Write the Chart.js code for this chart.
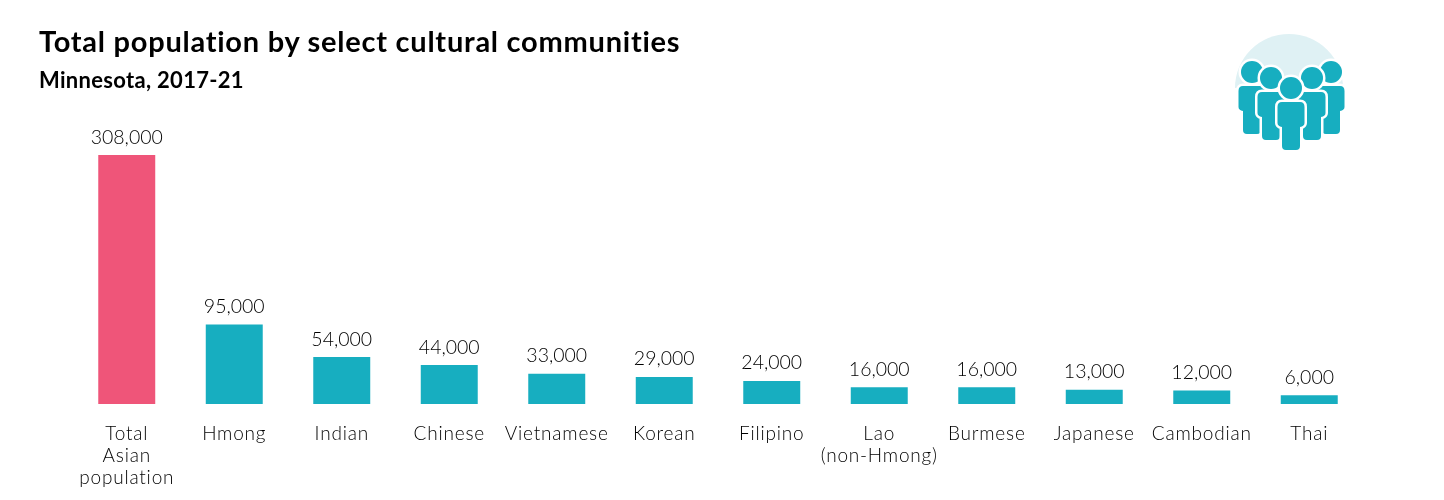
<!DOCTYPE html>
<html>
<head>
<meta charset="utf-8">
<title>Total population by select cultural communities</title>
<script src="https://cdn.jsdelivr.net/npm/chart.js@4"></script>
<style>
  html, body { margin: 0; padding: 0; background: #fff; }
  #wrap { position: relative; width: 1444px; height: 500px; overflow: hidden; font-family: Lato, sans-serif; color: #000; }
  #chart { position: absolute; left: 0; top: 0; }
  h1, h2 { position: absolute; left: 39px; margin: 0; font-weight: 700; white-space: nowrap; }
  h1 { top: 23px; font-size: 29px; line-height: 36px; letter-spacing: 0.75px; }
  h2 { top: 67px; font-size: 22px; line-height: 26px; letter-spacing: 0.3px; }
  #icon { position: absolute; left: 1220px; top: 25px; }
</style>
</head>
<body>
<div id="wrap">
  <canvas id="chart" width="1444" height="500"></canvas>
  <h1>Total population by select cultural communities</h1>
  <h2>Minnesota, 2017-21</h2>
  <svg id="icon" width="140" height="130" viewBox="1220 25 140 130">
    <defs>
      <g id="person">
        <circle cx="0" cy="0" r="11"/>
        <path d="M-9,14 H9 Q13.5,14 13.5,19 V35 Q13.5,38 9,39 V58 Q9,62 5,62 H-5 Q-9,62 -9,58 V39 Q-13.5,38 -13.5,35 V19 Q-13.5,14 -9,14 Z"/>
      </g>
    </defs>
    <path d="M1235,88 A54,54 0 0 1 1343,88 Z" fill="#dff1f4"/>
    <g fill="#17aec0" stroke="#fff" stroke-width="5" paint-order="stroke">
      <use href="#person" x="1252" y="72"/>
      <use href="#person" x="1331" y="72"/>
      <use href="#person" x="1271" y="78"/>
      <use href="#person" x="1312" y="78"/>
      <use href="#person" x="1291" y="88"/>
    </g>
  </svg>
</div>
<script>
// DATA
const categories = [['Total', 'Asian', 'population'], 'Hmong', 'Indian', 'Chinese', 'Vietnamese', 'Korean', 'Filipino', ['Lao', '(non-Hmong)'], 'Burmese', 'Japanese', 'Cambodian', 'Thai'];
const population = [308000, 95000, 54000, 44000, 33000, 29000, 24000, 16000, 16000, 13000, 12000, 6000];
const barColors = ['#ef5579', '#17aec0', '#17aec0', '#17aec0', '#17aec0', '#17aec0', '#17aec0', '#17aec0', '#17aec0', '#17aec0', '#17aec0', '#17aec0'];
// the reference axis starts a little below zero
const axisMin = -5000;
const axisMax = 308000;

// VALUE LABELS above the bars
const valueLabels = {
  id: 'valueLabels',
  afterDatasetsDraw(chart) {
    const ctx = chart.ctx;
    const bars = chart.getDatasetMeta(0).data;
    ctx.save();
    ctx.font = '300 19.5px Lato, sans-serif';
    ctx.fillStyle = '#000';
    ctx.textAlign = 'center';
    ctx.textBaseline = 'bottom';
    bars.forEach((bar, i) => {
      ctx.fillText(population[i].toLocaleString('en-US'), bar.x, bar.y - 8);
    });
    ctx.restore();
  }
};

// wider tracking for the axis labels
const tickSpacing = {
  id: 'tickSpacing',
  beforeDraw(chart) { chart.ctx.letterSpacing = '0.8px'; },
  afterDatasetsDraw(chart) { chart.ctx.letterSpacing = '0px'; }
};

// BAR CHART
new Chart(document.getElementById('chart').getContext('2d'), {
  type: 'bar',
  data: {
    labels: categories,
    datasets: [{
      data: population,
      base: axisMin,
      backgroundColor: barColors,
      categoryPercentage: 1,
      barPercentage: 0.53
    }]
  },
  options: {
    responsive: false,
    animation: false,
    layout: { padding: { left: 73, right: 81, top: 155, bottom: 0 } },
    plugins: { legend: { display: false }, tooltip: { enabled: false } },
    scales: {
      x: {
        grid: { display: false },
        border: { display: false },
        afterFit(scale) { scale.height = 96; },
        ticks: {
          autoSkip: false,
          maxRotation: 0,
          padding: 11,
          color: '#000',
          font: { family: 'Lato, sans-serif', weight: '300', size: 19, lineHeight: '22px' }
        }
      },
      y: { display: false, min: axisMin, max: axisMax }
    }
  },
  plugins: [tickSpacing, valueLabels]
});
</script>
</body>
</html>
